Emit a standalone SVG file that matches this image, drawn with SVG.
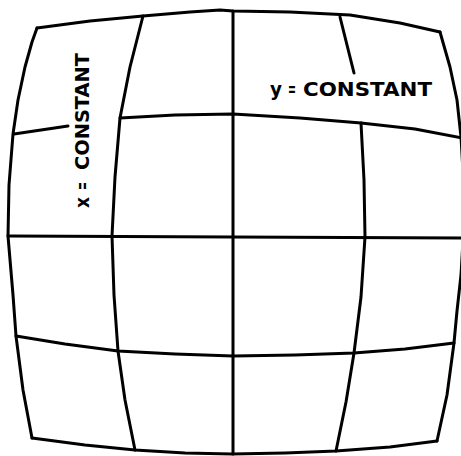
<svg xmlns="http://www.w3.org/2000/svg" width="461" height="456" viewBox="0 0 461 456">
<style>
.g{fill:none;stroke:#000;stroke-width:3;stroke-linejoin:round;stroke-linecap:round}
.t{font-family:"DejaVu Sans","Liberation Sans",Arial,sans-serif;font-weight:bold;font-size:19.5px;fill:#000}
</style>
<rect width="461" height="456" fill="#fff"/>
<g id="grid">
<polyline id="edge-top" class="g" points="37,28 90,21 143,16 190,12 220,10 233,11 290,12 350,15 400,23 440,32"/>
<polyline id="edge-left" class="g" points="37,28 32,42 25,67 18,100 13,134 9,185 8,236 13,295 16,336 23,390 32,438"/>
<polyline id="edge-right" class="g" points="440,32 450,67 457,100 461,137 465,206 461,275 457,311 454,343 447,395 437,441"/>
<polyline id="edge-bottom" class="g" points="32,438 85,445 135,450 185,453 232,454 285,453 336,451 390,447 437,441"/>
<polyline id="h1-stub" class="g" points="14,134 68,126"/>
<polyline id="h1" class="g" points="120,118 175,115 233,114 300,118 361,123 415,129 462,138"/>
<polyline id="h2" class="g" points="8,236 233,237 462,238"/>
<polyline id="h3" class="g" points="16,336 65,344 118,351 175,354 233,356 295,355 354,353 405,349 454,343"/>
<polyline id="v1" class="g" points="143,16 130,67 120,118 115,177 112,236 114,295 118,351 125,400 135,450"/>
<polyline id="v2" class="g" points="233,11 233,454"/>
<polyline id="v3-stub" class="g" points="340,17 354,73"/>
<polyline id="v3" class="g" points="361,123 364,180 365,237 361,297 354,353 346,402 336,451"/>
</g>
<g id="labels">
<text class="t" transform="translate(89,0) rotate(-90)"><tspan x="-208" textLength="11" lengthAdjust="spacingAndGlyphs">x</tspan> <tspan x="-190" textLength="8" lengthAdjust="spacingAndGlyphs">=</tspan> <tspan x="-170" textLength="117" lengthAdjust="spacingAndGlyphs">CONSTANT</tspan></text>
<text class="t" y="96"><tspan x="270" textLength="12" lengthAdjust="spacingAndGlyphs">y</tspan> <tspan x="288" textLength="8" lengthAdjust="spacingAndGlyphs">=</tspan> <tspan x="303" textLength="129" lengthAdjust="spacingAndGlyphs">CONSTANT</tspan></text>
</g>
</svg>
